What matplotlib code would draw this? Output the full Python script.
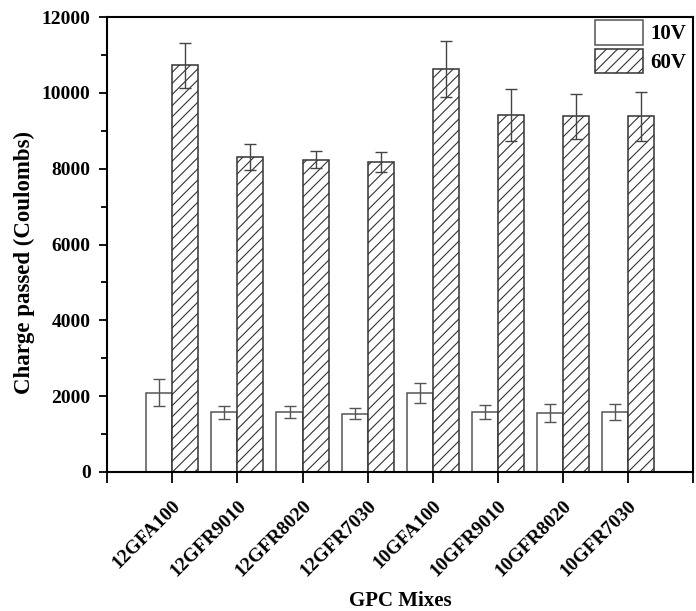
import numpy as np
import matplotlib
matplotlib.use('Agg')
import matplotlib.pyplot as plt

# Data
mixes = ['12GFA100', '12GFR9010', '12GFR8020', '12GFR7030',
         '10GFA100', '10GFR9010', '10GFR8020', '10GFR7030']
v10 = [2090, 1580, 1580, 1540, 2080, 1580, 1565, 1575]
v10_err = [360, 170, 160, 140, 260, 190, 235, 210]
v60 = [10730, 8310, 8240, 8170, 10640, 9410, 9380, 9380]
v60_err = [600, 350, 230, 260, 740, 690, 600, 650]
y_ticks = [0, 2000, 4000, 6000, 8000, 10000, 12000]

plt.rcParams['font.family'] = ['Liberation Serif', 'DejaVu Serif']
plt.rcParams['font.weight'] = 'bold'
plt.rcParams['hatch.linewidth'] = 0.8

fig = plt.figure(figsize=(6.96, 6.11), dpi=100)
ax = fig.add_axes([0.154, 0.2275, 0.842, 0.7445])

x = np.arange(len(mixes))
w = 0.4
ax.bar(x, v10, width=-w, align='edge', color='white', edgecolor='#555555',
       linewidth=1.1, label='10V')
ax.bar(x, v60, width=w, align='edge', color='white', edgecolor='#333333',
       linewidth=1.1, hatch='///', label='60V')
ax.errorbar(x - w / 2, v10, yerr=v10_err, fmt='none', ecolor='#555555',
            elinewidth=1, capsize=4, capthick=1)
ax.errorbar(x + w / 2, v60, yerr=v60_err, fmt='none', ecolor='#444444',
            elinewidth=1, capsize=4, capthick=1)

ax.set_xlim(-1, len(mixes))
ax.set_ylim(0, 12000)
ax.set_yticks(y_ticks)
ax.set_yticks(np.arange(1000, 12000, 2000), minor=True)
# ticks also at both ends of the axis, without labels (as in Origin)
ax.set_xticks(np.arange(-1, len(mixes) + 1))
ax.set_xticklabels([''] + mixes + [''], rotation=45, ha='right',
                   rotation_mode='anchor', fontsize=14, fontweight='bold')
ax.tick_params(axis='y', labelsize=14, direction='out', length=6, width=1.3, pad=6)
ax.tick_params(axis='y', which='minor', direction='out', length=4, width=1.3)
ax.tick_params(axis='x', direction='out', length=8, width=1.3, pad=10)
for lbl in ax.get_yticklabels():
    lbl.set_fontweight('bold')
for s in ax.spines.values():
    s.set_linewidth(1.5)

ax.set_ylabel('Charge passed (Coulombs)', fontsize=16.5, fontweight='bold')
ax.yaxis.set_label_coords(-0.123, 0.4615)
ax.set_xlabel('GPC Mixes', fontsize=15, fontweight='bold', labelpad=8)

leg = ax.legend(loc='upper right', frameon=False, fontsize=15,
                handlelength=2.3, handleheight=1.4, borderaxespad=0.15,
                borderpad=0.1, labelspacing=0.2, handletextpad=0.35,
                bbox_to_anchor=(0.997, 1.004))

fig.savefig('out.png', dpi=100)
